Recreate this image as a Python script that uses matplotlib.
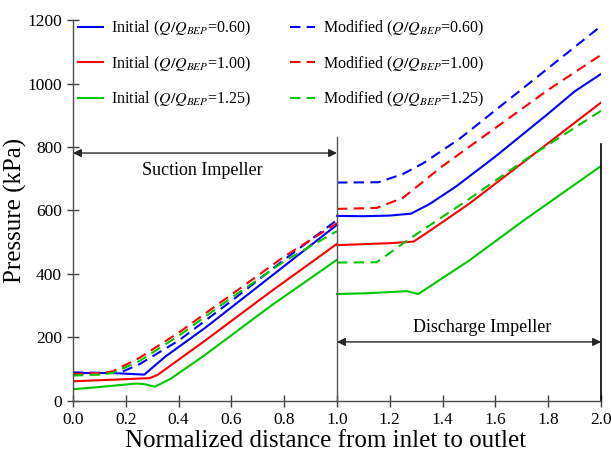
import matplotlib
matplotlib.use("Agg")
import matplotlib.pyplot as plt
import numpy as np

# Pressure along the pump (kPa)
# suction impeller: normalized distance 0..1
init_060_x = [0.0, 0.15, 0.27, 0.35, 0.5, 0.7, 1.0]
init_060_y = [88, 88, 83, 140, 230, 360, 555]
init_100_x = [0.0, 0.15, 0.29, 0.32, 0.5, 0.75, 1.0]
init_100_y = [62, 67, 72, 82, 190, 345, 495]
init_125_x = [0.0, 0.1, 0.24, 0.27, 0.31, 0.37, 0.5, 0.75, 1.0]
init_125_y = [37, 44, 55, 53, 45, 70, 145, 300, 445]

mod_060_x = [0.0, 0.1, 0.18, 0.25, 0.3, 0.4, 0.6, 0.8, 1.0]
mod_060_y = [90, 89, 90, 115, 140, 190, 315, 445, 570]
mod_100_x = [0.0, 0.1, 0.15, 0.25, 0.4, 0.6, 0.8, 1.0]
mod_100_y = [85, 88, 93, 135, 215, 335, 455, 560]
mod_125_x = [0.0, 0.1, 0.15, 0.25, 0.4, 0.6, 0.8, 1.0]
mod_125_y = [80, 83, 88, 125, 205, 325, 440, 535]

# discharge impeller: normalized distance 1..2
d_init_060_x = [1.0, 1.1, 1.2, 1.28, 1.35, 1.45, 1.6, 1.8, 1.9, 2.0]
d_init_060_y = [583, 582, 584, 590, 620, 675, 770, 905, 975, 1030]
d_init_100_x = [1.0, 1.1, 1.2, 1.29, 1.35, 1.5, 1.72, 2.0]
d_init_100_y = [491, 494, 497, 502, 535, 621, 761, 940]
d_init_125_x = [1.0, 1.1, 1.2, 1.264, 1.308, 1.5, 1.706, 2.0]
d_init_125_y = [337, 339, 343, 346, 337, 442, 568, 740]

d_mod_060_x = [1.0, 1.157, 1.25, 1.327, 1.466, 1.7, 2.0]
d_mod_060_y = [688, 689, 715, 749, 827, 982, 1181]
d_mod_100_x = [1.0, 1.15, 1.25, 1.4, 1.6, 1.8, 2.0]
d_mod_100_y = [605, 608, 640, 740, 860, 980, 1090]
d_mod_125_x = [1.0, 1.15, 1.277, 1.5, 1.72, 2.0]
d_mod_125_y = [436, 437, 512, 636, 764, 914]

flow_labels = ["0.60", "1.00", "1.25"]
colors = ["#0000ff", "#ff0000", "#00c800"]

plt.rcParams["font.family"] = ["Liberation Serif", "DejaVu Serif"]
plt.rcParams["mathtext.fontset"] = "stix"

fig = plt.figure(figsize=(6.11, 4.59), dpi=100)
ax = fig.add_axes([0.1195, 0.1264, 0.8641, 0.83])

init_x = [init_060_x, init_100_x, init_125_x]
init_y = [init_060_y, init_100_y, init_125_y]
mod_x = [mod_060_x, mod_100_x, mod_125_x]
mod_y = [mod_060_y, mod_100_y, mod_125_y]
d_init_x = [d_init_060_x, d_init_100_x, d_init_125_x]
d_init_y = [d_init_060_y, d_init_100_y, d_init_125_y]
d_mod_x = [d_mod_060_x, d_mod_100_x, d_mod_125_x]
d_mod_y = [d_mod_060_y, d_mod_100_y, d_mod_125_y]

init_handles = []
mod_handles = []
for i in range(3):
	c = colors[i]
	lab = flow_labels[i]
	h1, = ax.plot(init_x[i], init_y[i], color=c, lw=1.5,
		      label="Initial ($Q/Q_{BEP}$=" + lab + ")")
	ax.plot(d_init_x[i], d_init_y[i], color=c, lw=1.5)
	h2, = ax.plot(mod_x[i], mod_y[i], color=c, lw=1.5, dashes=(5, 3),
		      label="Modified ($Q/Q_{BEP}$=" + lab + ")")
	ax.plot(d_mod_x[i], d_mod_y[i], color=c, lw=1.5, dashes=(5, 3))
	init_handles.append(h1)
	mod_handles.append(h2)

# impeller boundaries and arrows
ax.plot([1.0, 1.0], [0, 830], color="0.35", lw=1.0)
ax.plot([2.0, 2.0], [0, 810], color="black", lw=1.2, clip_on=False)

arrow = dict(arrowstyle="<|-|>", color="0.15", lw=1.0,
	     mutation_scale=12, shrinkA=0, shrinkB=0)
ax.annotate("", xy=(0.0, 781), xytext=(1.0, 781), arrowprops=arrow)
ax.text(0.49, 727, "Suction Impeller", ha="center", va="center", fontsize=13)
ax.annotate("", xy=(1.0, 186), xytext=(2.0, 186), arrowprops=arrow)
ax.text(1.55, 232, "Discharge Impeller", ha="center", va="center", fontsize=13)

ax.set_xlim(0, 2.0)
ax.set_ylim(0, 1200)
ax.set_xticks(np.arange(0, 2.01, 0.2))
ax.set_yticks(np.arange(0, 1201, 200))
ax.xaxis.set_major_formatter(matplotlib.ticker.FormatStrFormatter("%.1f"))
ax.tick_params(direction="inout", length=9, width=1.0, colors="0.25",
	       labelcolor="black", labelsize=12.5)
for s in ["top", "right"]:
	ax.spines[s].set_visible(False)
for s in ["left", "bottom"]:
	ax.spines[s].set_color("0.3")
	ax.spines[s].set_linewidth(1.0)

ax.set_xlabel("Normalized distance from inlet to outlet", fontsize=18, labelpad=0)
ax.set_ylabel("Pressure (kPa)", fontsize=18, labelpad=0)
ax.xaxis.set_label_coords(0.479, -0.075)

ax.legend(init_handles + mod_handles,
	  [h.get_label() for h in init_handles + mod_handles],
	  ncol=2, frameon=False, loc="upper left", bbox_to_anchor=(-0.018, 1.04),
	  fontsize=11.5, handlelength=1.6, handletextpad=0.5,
	  columnspacing=2.4, labelspacing=1.0)

fig.savefig("out.png", dpi=100)
